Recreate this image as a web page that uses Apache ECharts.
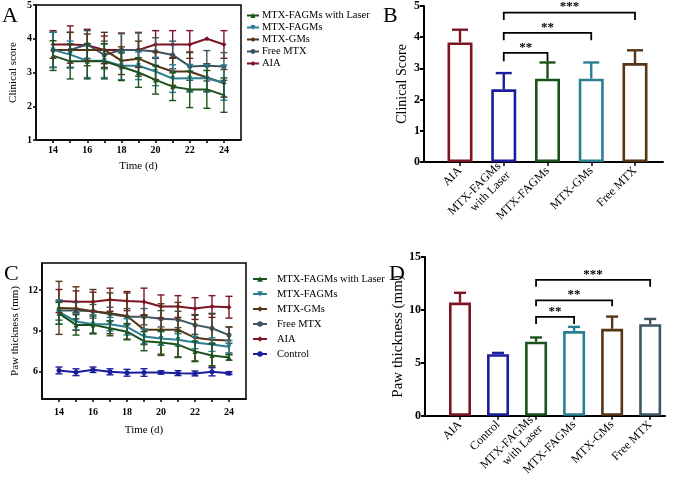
<!DOCTYPE html>
<html>
<head>
<meta charset="utf-8">
<script src="https://cdn.jsdelivr.net/npm/echarts@6/dist/echarts.min.js"></script>
<style>
  html, body { margin: 0; padding: 0; background: #fff; }
  #chart { width: 680px; height: 483px; }
</style>
</head>
<body>
<div id="chart"></div>
<script>
// 时间轴
const days = [14, 15, 16, 17, 18, 19, 20, 21, 22, 23, 24];
const dayLabels = [14, 16, 18, 20, 22, 24];

// A: Clinical score (mean, sd)
const scoreLaser = [3.5, 3.33, 3.33, 3.33, 3.17, 3.0, 2.78, 2.58, 2.5, 2.5, 2.33];
const scoreLaserSd = [0.44, 0.52, 0.52, 0.52, 0.41, 0.44, 0.42, 0.41, 0.54, 0.56, 0.51];
const scoreFagms = [3.67, 3.53, 3.35, 3.35, 3.2, 3.2, 3.03, 2.82, 2.83, 2.83, 2.7];
const scoreFagmsSd = [0.52, 0.4, 0.5, 0.5, 0.41, 0.41, 0.42, 0.41, 0.41, 0.41, 0.52];
const scoreGms = [3.67, 3.67, 3.67, 3.67, 3.35, 3.41, 3.2, 3.03, 3.03, 2.85, 2.68];
const scoreGmsSd = [0.52, 0.52, 0.47, 0.52, 0.41, 0.52, 0.41, 0.41, 0.58, 0.41, 0.41];
const scoreFree = [3.67, 3.67, 3.83, 3.52, 3.67, 3.67, 3.62, 3.52, 3.18, 3.2, 3.18];
const scoreFreeSd = [0.52, 0.52, 0.41, 0.41, 0.48, 0.5, 0.41, 0.41, 0.41, 0.45, 0.41];
const scoreAia = [3.83, 3.83, 3.81, 3.67, 3.67, 3.67, 3.83, 3.83, 3.83, 4.0, 3.83];
const scoreAiaSd = [0.41, 0.55, 0.47, 0.41, 0.5, 0.52, 0.41, 0.41, 0.41, 0, 0.41];

// C: Paw thickness (mean, sd)
const pawLaser = [10.3, 9.45, 9.45, 9.2, 8.95, 8.25, 8.15, 8.0, 7.5, 7.2, 7.05];
const pawLaserSd = [0.8, 0.75, 0.65, 0.55, 0.6, 0.7, 0.85, 0.95, 0.75, 0.85, 0.2];
const pawFagms = [10.4, 9.7, 9.5, 9.5, 9.3, 8.6, 8.45, 8.35, 8.15, 8.0, 7.85];
const pawFagmsSd = [0.9, 0.6, 0.7, 0.5, 0.6, 0.55, 0.5, 0.45, 0.45, 0.5, 0.45];
const pawGms = [10.7, 10.65, 10.45, 10.3, 10.1, 9.1, 9.1, 9.1, 8.5, 8.35, 8.3];
const pawGmsSd = [1.95, 1.6, 1.6, 1.5, 1.7, 1.1, 1.9, 2.0, 1.7, 1.9, 1.0];
const pawFree = [10.5, 10.5, 10.45, 10.25, 10.05, 10.05, 9.9, 9.85, 9.45, 9.2, 8.7];
const pawFreeSd = [0.7, 0.6, 0.5, 0.5, 0.6, 0.6, 0.6, 0.6, 0.7, 1.1, 0.6];
const pawAia = [11.2, 11.15, 11.15, 11.3, 11.2, 11.15, 10.8, 10.8, 10.65, 10.8, 10.75];
const pawAiaSd = [0.85, 0.8, 0.7, 0.85, 0.7, 1.0, 0.85, 0.8, 0.8, 0.8, 0.8];
const pawControl = [6.1, 5.97, 6.15, 6.0, 5.93, 5.95, 5.95, 5.9, 5.88, 6.0, 5.9];
const pawControlSd = [0.25, 0.25, 0.2, 0.22, 0.25, 0.28, 0.12, 0.18, 0.18, 0.3, 0.1];

// B: day 24 clinical score
const catsB = ['AIA', 'MTX-FAGMs\nwith Laser', 'MTX-FAGMs', 'MTX-GMs', 'Free MTX'];
const meanB = [3.83, 2.33, 2.67, 2.67, 3.17];
const sdB = [0.41, 0.52, 0.52, 0.52, 0.41];
const bracketsB = [[1, 2, 3.5, 3.23, '**'], [1, 3, 4.14, 3.9, '**'], [1, 4, 4.79, 4.55, '***']];

// D: day 24 paw thickness
const catsD = ['AIA', 'Control', 'MTX-FAGMs\nwith Laser', 'MTX-FAGMs', 'MTX-GMs', 'Free MTX'];
const meanD = [10.7, 5.82, 7.0, 8.0, 8.22, 8.65];
const sdD = [0.92, 0.12, 0.4, 0.4, 1.15, 0.5];
const bracketsD = [[2, 3, 9.35, 8.67, '**'], [2, 4, 10.9, 10.35, '**'], [2, 5, 12.83, 12.2, '***']];

const namesA = ['MTX-FAGMs with Laser', 'MTX-FAGMs', 'MTX-GMs', 'Free MTX', 'AIA'];
const namesC = ['MTX-FAGMs with Laser', 'MTX-FAGMs', 'MTX-GMs', 'Free MTX', 'AIA', 'Control'];

// 颜色
const cRed = '#7d1424';
const cBlue = '#1c1c9e';
const cGreen = '#1b521b';
const cTeal = '#2a7f92';
const cBrown = '#553515';
const cSlate = '#3e5662';
const colorsB = [cRed, cBlue, cGreen, cTeal, cBrown];
const colorsD = [cRed, cBlue, cGreen, cTeal, cBrown, cSlate];

const serif = '"Liberation Serif", "DejaVu Serif", serif';
const downTri = 'path://M0,0L10,0L5,9Z';

function lineSeries(name, color, symbol, vals, g) {
  return {
    type: 'line', name: name, xAxisIndex: g, yAxisIndex: g,
    data: days.map((d, i) => [d, vals[i]]),
    symbol: symbol, symbolSize: 5,
    lineStyle: { color: color, width: 2 },
    itemStyle: { color: color },
    z: 3
  };
}

function errSeries(color, vals, sd, g) {
  return {
    type: 'custom', xAxisIndex: g, yAxisIndex: g, z: 4,
    data: days.map((d, i) => [d, vals[i], sd[i]]),
    renderItem: function (params, api) {
      const x = api.value(0), m = api.value(1), s = api.value(2);
      if (!s) return null;
      const t = api.coord([x, m + s]), b = api.coord([x, m - s]);
      const w = 3.5;
      const st = { stroke: color, lineWidth: 1.4 };
      return {
        type: 'group', children: [
          { type: 'line', shape: { x1: t[0], y1: t[1], x2: b[0], y2: b[1] }, style: st },
          { type: 'line', shape: { x1: t[0] - w, y1: t[1], x2: t[0] + w, y2: t[1] }, style: st },
          { type: 'line', shape: { x1: b[0] - w, y1: b[1], x2: b[0] + w, y2: b[1] }, style: st }
        ]
      };
    }
  };
}

function barSeries(means, colors, g, width) {
  return {
    type: 'bar', xAxisIndex: g, yAxisIndex: g, barWidth: width,
    data: means.map((v, i) => ({ value: [i, v], itemStyle: { borderColor: colors[i] } })),
    itemStyle: { color: '#fff', borderWidth: 2.6 },
    z: 2
  };
}

function barErrSeries(means, sd, colors, g, cap) {
  return {
    type: 'custom', xAxisIndex: g, yAxisIndex: g, z: 3,
    data: means.map((v, i) => [i, v, sd[i]]),
    renderItem: function (params, api) {
      const x = api.value(0), m = api.value(1), s = api.value(2);
      const base = api.coord([x, m]), t = api.coord([x, m + s]);
      const st = { stroke: colors[params.dataIndex], lineWidth: 2.4 };
      return {
        type: 'group', children: [
          { type: 'line', shape: { x1: base[0], y1: base[1], x2: t[0], y2: t[1] }, style: st },
          { type: 'line', shape: { x1: t[0] - cap, y1: t[1], x2: t[0] + cap, y2: t[1] }, style: st }
        ]
      };
    }
  };
}

function bracketSeries(list, g) {
  return {
    type: 'custom', xAxisIndex: g, yAxisIndex: g, z: 5,
    data: list.map(b => [b[0], b[1], b[2], b[3]]),
    renderItem: function (params, api) {
      const b = list[params.dataIndex];
      const p1 = api.coord([b[0], b[2]]), p2 = api.coord([b[1], b[2]]);
      const d = api.coord([b[0], b[3]]);
      return {
        type: 'group', children: [
          { type: 'polyline', shape: { points: [[p1[0], d[1]], [p1[0], p1[1]], [p2[0], p1[1]], [p2[0], d[1]]] },
            style: { stroke: '#000', lineWidth: 1.8, fill: null } },
          { type: 'text', x: (p1[0] + p2[0]) / 2, y: p1[1] + 1,
            style: { text: b[4], fill: '#000', font: 'bold 13px ' + serif, align: 'center', verticalAlign: 'bottom' } }
        ]
      };
    }
  };
}

const axisLine = { onZero: false, lineStyle: { color: '#000', width: 1.5 } };
const barAxisLine = { onZero: false, lineStyle: { color: '#000', width: 2 } };
const axisTick = { length: 3, lineStyle: { color: '#000', width: 1.5 } };
const tickFont = { color: '#000', fontFamily: serif, fontWeight: 'bold', fontSize: 10, margin: 4 };
const nameFont = { color: '#000', fontFamily: serif, fontSize: 11 };

const chart = echarts.init(document.getElementById('chart'), null, { renderer: 'canvas' });

const option = {
  animation: false,
  backgroundColor: '#fff',
  grid: [
    { left: 36, top: 5, width: 205, height: 135, show: true, borderColor: '#000', borderWidth: 1.5, backgroundColor: 'transparent' },
    { left: 424, top: 6, width: 239, height: 156 },
    { left: 42, top: 263, width: 204, height: 136, show: true, borderColor: '#000', borderWidth: 1.5, backgroundColor: 'transparent' },
    { left: 425, top: 257, width: 240, height: 160 }
  ],
  xAxis: [
    { gridIndex: 0, type: 'value', min: 13, max: 25, splitLine: { show: false },
      axisLine: axisLine, axisTick: Object.assign({ customValues: days }, axisTick),
      axisLabel: Object.assign({ customValues: dayLabels }, tickFont, { margin: 5 }),
      name: 'Time (d)', nameLocation: 'middle', nameGap: 21, nameTextStyle: nameFont },
    { gridIndex: 1, type: 'value', min: -0.823, max: 4.64, splitLine: { show: false },
      axisLine: barAxisLine,
      axisTick: { customValues: [0, 1, 2, 3, 4], length: 4, lineStyle: { color: '#000', width: 1.5 } },
      axisLabel: { customValues: [0, 1, 2, 3, 4], formatter: v => catsB[Math.round(v)], rotate: 45,
        color: '#000', fontFamily: serif, fontSize: 12, margin: 7, lineHeight: 13 } },
    { gridIndex: 2, type: 'value', min: 13, max: 25, splitLine: { show: false },
      axisLine: axisLine, axisTick: Object.assign({ customValues: days }, axisTick),
      axisLabel: Object.assign({ customValues: dayLabels }, tickFont, { margin: 8 }),
      name: 'Time (d)', nameLocation: 'middle', nameGap: 26, nameTextStyle: nameFont },
    { gridIndex: 3, type: 'value', min: -0.92, max: 5.39, splitLine: { show: false },
      axisLine: barAxisLine,
      axisTick: { customValues: [0, 1, 2, 3, 4, 5], length: 4, lineStyle: { color: '#000', width: 1.5 } },
      axisLabel: { customValues: [0, 1, 2, 3, 4, 5], formatter: v => catsD[Math.round(v)], rotate: 45,
        color: '#000', fontFamily: serif, fontSize: 12, margin: 7, lineHeight: 13 } }
  ],
  yAxis: [
    { gridIndex: 0, type: 'value', min: 1, max: 5, interval: 1, splitLine: { show: false },
      axisLine: axisLine, axisTick: axisTick, axisLabel: tickFont,
      name: 'Clinical score', nameLocation: 'middle', nameGap: 17, nameTextStyle: nameFont },
    { gridIndex: 1, type: 'value', min: 0, max: 5, interval: 1, splitLine: { show: false },
      axisLine: barAxisLine,
      axisTick: { length: 4, lineStyle: { color: '#000', width: 2 } },
      axisLabel: Object.assign({}, tickFont, { fontSize: 12, margin: 4 }),
      name: 'Clinical Score', nameLocation: 'middle', nameGap: 15, nameTextStyle: Object.assign({}, nameFont, { fontSize: 14 }) },
    { gridIndex: 2, type: 'value', min: 4, max: 14, splitLine: { show: false },
      axisLine: axisLine, axisTick: Object.assign({ customValues: [6, 9, 12] }, axisTick),
      axisLabel: Object.assign({ customValues: [6, 9, 12] }, tickFont),
      name: 'Paw thickness (mm)', nameLocation: 'middle', nameGap: 21, nameTextStyle: nameFont },
    { gridIndex: 3, type: 'value', min: 0, max: 15, interval: 5, splitLine: { show: false },
      axisLine: barAxisLine,
      axisTick: { length: 4, lineStyle: { color: '#000', width: 2 } },
      axisLabel: Object.assign({}, tickFont, { fontSize: 12, margin: 4 }),
      name: 'Paw thickness (mm)', nameLocation: 'middle', nameGap: 18, nameTextStyle: Object.assign({}, nameFont, { fontSize: 15 }) }
  ],
  legend: [
    { data: namesA, orient: 'vertical', left: 246, top: 10, padding: 0, itemWidth: 12, itemHeight: 6, itemGap: 1,
      textStyle: { color: '#000', fontFamily: serif, fontSize: 10.5, lineHeight: 11, padding: [0, 0, 0, -2] } },
    { data: namesC, orient: 'vertical', left: 252, top: 273, padding: 0, itemWidth: 14, itemHeight: 7, itemGap: 3,
      textStyle: { color: '#000', fontFamily: serif, fontSize: 10.5, lineHeight: 12, padding: [0, 0, 0, 5] } }
  ],
  graphic: [
    { type: 'text', left: 2, top: 5, style: { text: 'A', font: '22px ' + serif, fill: '#000' } },
    { type: 'text', left: 383, top: 5, style: { text: 'B', font: '22px ' + serif, fill: '#000' } },
    { type: 'text', left: 4, top: 263, style: { text: 'C', font: '22px ' + serif, fill: '#000' } },
    { type: 'text', left: 389, top: 263, style: { text: 'D', font: '22px ' + serif, fill: '#000' } }
  ],
  series: [
    // A
    lineSeries('AIA', cRed, 'diamond', scoreAia, 0),
    lineSeries('Free MTX', cSlate, 'circle', scoreFree, 0),
    lineSeries('MTX-GMs', cBrown, 'diamond', scoreGms, 0),
    lineSeries('MTX-FAGMs', cTeal, downTri, scoreFagms, 0),
    lineSeries('MTX-FAGMs with Laser', cGreen, 'triangle', scoreLaser, 0),
    errSeries(cRed, scoreAia, scoreAiaSd, 0),
    errSeries(cSlate, scoreFree, scoreFreeSd, 0),
    errSeries(cBrown, scoreGms, scoreGmsSd, 0),
    errSeries(cTeal, scoreFagms, scoreFagmsSd, 0),
    errSeries(cGreen, scoreLaser, scoreLaserSd, 0),
    // B
    barSeries(meanB, colorsB, 1, 25),
    barErrSeries(meanB, sdB, colorsB, 1, 8),
    bracketSeries(bracketsB, 1),
    // C
    lineSeries('AIA', cRed, 'diamond', pawAia, 2),
    lineSeries('Free MTX', cSlate, 'circle', pawFree, 2),
    lineSeries('MTX-GMs', cBrown, 'diamond', pawGms, 2),
    lineSeries('MTX-FAGMs', cTeal, downTri, pawFagms, 2),
    lineSeries('MTX-FAGMs with Laser', cGreen, 'triangle', pawLaser, 2),
    lineSeries('Control', cBlue, 'circle', pawControl, 2),
    errSeries(cRed, pawAia, pawAiaSd, 2),
    errSeries(cSlate, pawFree, pawFreeSd, 2),
    errSeries(cBrown, pawGms, pawGmsSd, 2),
    errSeries(cTeal, pawFagms, pawFagmsSd, 2),
    errSeries(cGreen, pawLaser, pawLaserSd, 2),
    errSeries(cBlue, pawControl, pawControlSd, 2),
    // D
    barSeries(meanD, colorsD, 3, 22),
    barErrSeries(meanD, sdD, colorsD, 3, 6),
    bracketSeries(bracketsD, 3)
  ]
};

chart.setOption(option);
</script>
</body>
</html>
